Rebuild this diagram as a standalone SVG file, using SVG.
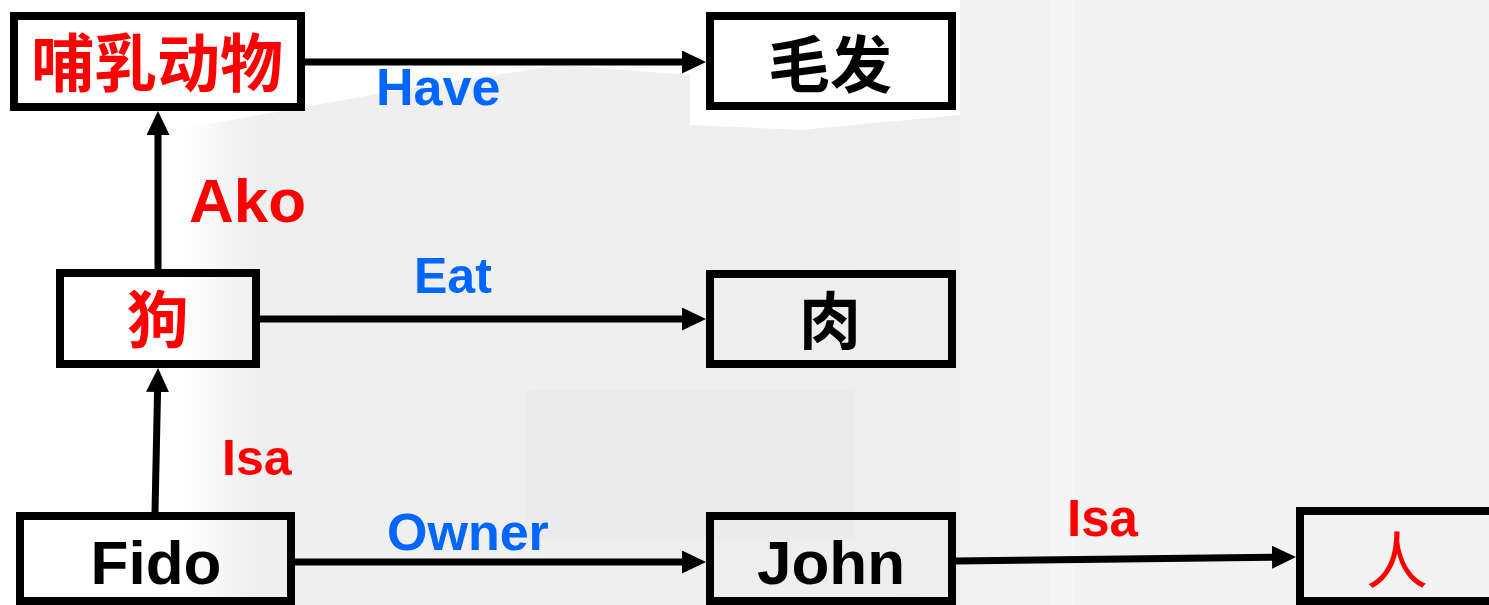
<svg xmlns="http://www.w3.org/2000/svg" width="1489" height="605" viewBox="0 0 1489 605">
<style>
.box{fill:none;stroke:#000;stroke-width:8}
.edge{fill:none;stroke:#000;stroke-width:7}
.cjk{font-family:"Noto Sans CJK SC",sans-serif;font-weight:700;font-size:62px;text-anchor:middle}
.lat{font-family:"Liberation Sans",Arial,sans-serif;font-weight:700;text-anchor:middle}
.lbl{font-family:"Liberation Sans",Arial,sans-serif;font-weight:700;font-size:52px}
.red{fill:#FF0000}
.blue{fill:#0066FF}
.blk{fill:#000}
.bg{stroke:none}
</style>
<defs>
<marker id="ah" markerUnits="userSpaceOnUse" markerWidth="26" markerHeight="24" refX="3" refY="11.5" orient="auto">
<path d="M0,0 L24,11.5 L0,23 z" fill="#000"/>
</marker>
<linearGradient id="fadeL" x1="0" y1="0" x2="1" y2="0">
<stop offset="0" stop-color="#f0f0f0" stop-opacity="0"/>
<stop offset="0.1" stop-color="#efefef" stop-opacity="1"/>
<stop offset="1" stop-color="#eeeeee" stop-opacity="1"/>
</linearGradient>
</defs>
<g id="background">
<rect x="0" y="0" width="1489" height="605" fill="#ffffff"/>
<polygon class="bg" points="175,130 400,90 560,65 690,75 690,125 800,130 960,115 960,605 175,605" fill="url(#fadeL)"/>
<rect class="bg" x="960" y="0" width="529" height="605" fill="#f2f2f2"/>
<rect class="bg" x="1050" y="0" width="25" height="605" fill="#f5f5f5"/>
<rect class="bg" x="1270" y="0" width="219" height="605" fill="#f3f3f3"/>
<rect class="bg" x="525" y="390" width="330" height="150" fill="#ebebeb"/>
</g>
<g id="edges">
<line class="edge" x1="158" y1="269" x2="158" y2="132" marker-end="url(#ah)"/>
<line class="edge" x1="155" y1="512" x2="157.6" y2="389" marker-end="url(#ah)"/>
<line class="edge" x1="305" y1="62" x2="685" y2="62" marker-end="url(#ah)"/>
<line class="edge" x1="260" y1="319" x2="685" y2="319" marker-end="url(#ah)"/>
<line class="edge" x1="295" y1="562" x2="685" y2="562" marker-end="url(#ah)"/>
<line class="edge" x1="956" y1="561" x2="1275" y2="557.2" marker-end="url(#ah)"/>
<text class="lbl blue" x="376" y="105">Have</text>
<text class="lbl red" x="189" y="222" style="font-size:62px">Ako</text>
<text class="lbl blue" x="414" y="293" style="font-size:50px">Eat</text>
<text class="lbl red" x="222" y="475" style="font-size:50px">Isa</text>
<text class="lbl blue" x="387" y="550">Owner</text>
<text class="lbl red" x="1067" y="536" style="font-size:51px">Isa</text>
</g>
<g id="node-mammal">
<rect class="box" x="14" y="16" width="287" height="91"/>
<text class="cjk red" x="157" y="86" style="font-size:63px">哺乳动物</text>
</g>
<g id="node-hair">
<rect class="box" x="710" y="16" width="242" height="90"/>
<text class="cjk blk" x="830" y="88">毛发</text>
</g>
<g id="node-dog">
<rect class="box" x="60" y="273" width="196" height="91"/>
<text class="cjk red" x="158" y="343">狗</text>
</g>
<g id="node-meat">
<rect class="box" x="710" y="274" width="242" height="90"/>
<text class="cjk blk" x="830" y="344">肉</text>
</g>
<g id="node-fido">
<rect class="box" x="20" y="516" width="271" height="85"/>
<text class="lat blk" x="156" y="584" style="font-size:62px">Fido</text>
</g>
<g id="node-john">
<rect class="box" x="710" y="516" width="242" height="85"/>
<text class="lat blk" x="831" y="584" style="font-size:62px">John</text>
</g>
<g id="node-person">
<rect class="box" x="1300" y="511" width="200" height="90"/>
<text class="cjk red" x="1397" y="584" style="font-weight:400">人</text>
</g>
</svg>
